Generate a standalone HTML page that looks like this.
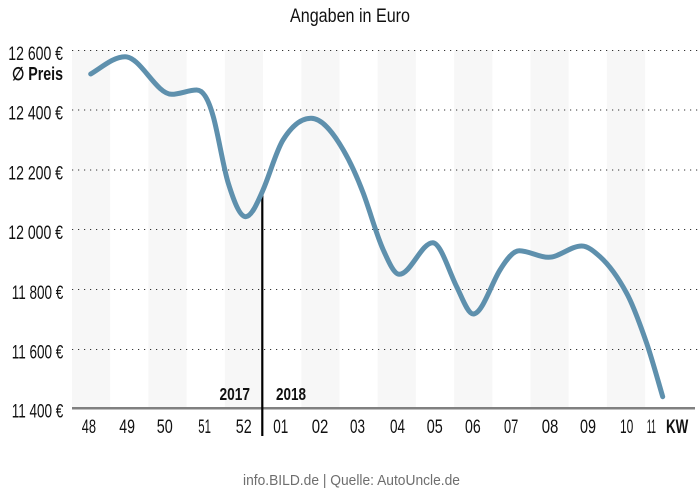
<!DOCTYPE html>
<html>
<head>
<meta charset="utf-8">
<style>
html,body{margin:0;padding:0;background:#fff;}
svg{display:block;}
text{font-family:"Liberation Sans Narrow","Liberation Sans",sans-serif;fill:#111;}
</style>
</head>
<body>
<svg width="700" height="494" viewBox="0 0 700 494" xmlns="http://www.w3.org/2000/svg">
  <!-- bands -->
  <g fill="#f7f7f7">
    <rect x="72" y="50" width="38.2" height="358"/>
    <rect x="148.4" y="50" width="38.2" height="358"/>
    <rect x="224.8" y="50" width="38.2" height="358"/>
    <rect x="301.3" y="50" width="38.2" height="358"/>
    <rect x="377.7" y="50" width="38.2" height="358"/>
    <rect x="454.1" y="50" width="38.2" height="358"/>
    <rect x="530.5" y="50" width="38.2" height="358"/>
    <rect x="606.9" y="50" width="38.2" height="358"/>
  </g>
  <!-- gridlines -->
  <g stroke="#333" stroke-width="1.1" stroke-dasharray="1.2 4.8">
    <line x1="72" y1="50.5" x2="700" y2="50.5"/>
    <line x1="72" y1="110" x2="700" y2="110"/>
    <line x1="72" y1="170" x2="700" y2="170"/>
    <line x1="72" y1="229.5" x2="700" y2="229.5"/>
    <line x1="72" y1="289.5" x2="700" y2="289.5"/>
    <line x1="72" y1="349.5" x2="700" y2="349.5"/>
  </g>
  <!-- axis -->
  <line x1="72" y1="408.3" x2="695" y2="408.3" stroke="#808080" stroke-width="2.5"/>
  <!-- divider -->
  <line x1="262.3" y1="190" x2="262.3" y2="436" stroke="#000" stroke-width="2.2"/>

  <!-- title -->
  <text x="290" y="22" font-size="19" textLength="120" lengthAdjust="spacingAndGlyphs">Angaben in Euro</text>

  <!-- y labels -->
  <g font-size="19">
    <text x="8.3" y="60" textLength="54.7" lengthAdjust="spacingAndGlyphs">12 600 €</text>
    <text x="8.3" y="119.5" textLength="54.7" lengthAdjust="spacingAndGlyphs">12 400 €</text>
    <text x="8.3" y="179.5" textLength="54.7" lengthAdjust="spacingAndGlyphs">12 200 €</text>
    <text x="8.3" y="239" textLength="54.7" lengthAdjust="spacingAndGlyphs">12 000 €</text>
    <text x="11.7" y="299" textLength="51.6" lengthAdjust="spacingAndGlyphs">11 800 €</text>
    <text x="11.7" y="358.5" textLength="51.6" lengthAdjust="spacingAndGlyphs">11 600 €</text>
    <text x="11.7" y="417.5" textLength="51.6" lengthAdjust="spacingAndGlyphs">11 400 €</text>
  </g>
  <text x="12" y="80" font-size="18" font-weight="bold" textLength="51" lengthAdjust="spacingAndGlyphs">∅ Preis</text>

  <!-- year labels -->
  <text x="219.5" y="400" font-size="17.5" font-weight="bold" textLength="30.5" lengthAdjust="spacingAndGlyphs">2017</text>
  <text x="276" y="400" font-size="17.5" font-weight="bold" textLength="30" lengthAdjust="spacingAndGlyphs">2018</text>

  <!-- x labels -->
  <g font-size="19">
    <text x="81.7" y="433" textLength="14.3" lengthAdjust="spacingAndGlyphs">48</text>
    <text x="119.3" y="433" textLength="15.7" lengthAdjust="spacingAndGlyphs">49</text>
    <text x="156.7" y="433" textLength="16" lengthAdjust="spacingAndGlyphs">50</text>
    <text x="198.3" y="433" textLength="12.7" lengthAdjust="spacingAndGlyphs">51</text>
    <text x="235.7" y="433" textLength="16" lengthAdjust="spacingAndGlyphs">52</text>
    <text x="273.3" y="433" textLength="15" lengthAdjust="spacingAndGlyphs">01</text>
    <text x="311.7" y="433" textLength="16.6" lengthAdjust="spacingAndGlyphs">02</text>
    <text x="350" y="433" textLength="15" lengthAdjust="spacingAndGlyphs">03</text>
    <text x="390" y="433" textLength="15" lengthAdjust="spacingAndGlyphs">04</text>
    <text x="426.7" y="433" textLength="16" lengthAdjust="spacingAndGlyphs">05</text>
    <text x="465" y="433" textLength="15.7" lengthAdjust="spacingAndGlyphs">06</text>
    <text x="504" y="433" textLength="14.3" lengthAdjust="spacingAndGlyphs">07</text>
    <text x="541.7" y="433" textLength="16.6" lengthAdjust="spacingAndGlyphs">08</text>
    <text x="580" y="433" textLength="16" lengthAdjust="spacingAndGlyphs">09</text>
    <text x="620" y="433" textLength="13.3" lengthAdjust="spacingAndGlyphs">10</text>
    <text x="646.7" y="433" textLength="9.3" lengthAdjust="spacingAndGlyphs">11</text>
    <text x="666" y="433" font-weight="bold" textLength="22.3" lengthAdjust="spacingAndGlyphs">KW</text>
  </g>

  <!-- series -->
  <path fill="none" stroke="#5e90ad" stroke-width="5" stroke-linecap="round" stroke-linejoin="round"
    d="M90.7,74
       C102.1,67.1 113.6,56.7 125,56.7
       C140.6,56.7 156.1,94.3 171.7,94.3
       C180,94.3 188.4,90 196.7,90
       C202.2,90 207.8,96.8 213.3,116.7
       C218.3,134.7 223.3,167.3 228.3,183.3
       C234.1,201.9 239.9,216.7 245.7,216.7
       C251.5,216.7 257.2,203.3 263,190
       C269.7,174.7 276.3,150.7 283,140
       C292.3,125.1 301.7,118.3 311,118.3
       C321.8,118.3 332.5,131.5 343.3,150
       C350,161.5 356.6,175.5 363.3,193.3
       C370,211.1 376.6,235.3 383.3,250
       C388.6,261.7 394,274.3 399.3,274.3
       C410.4,274.3 421.6,242.7 432.7,242.7
       C440.7,242.7 448.7,270.7 456.7,286.7
       C462.2,297.8 467.8,314 473.3,314
       C482.2,314 491.1,284.2 500,270
       C506.4,259.7 512.9,250.7 519.3,250.7
       C529,250.7 538.6,257.3 548.3,257.3
       C559.4,257.3 570.6,246 581.7,246
       C587.8,246 593.9,251.2 600,256.7
       C608.9,264.7 617.8,276.8 626.7,293.3
       C633.4,305.6 640,324 646.7,343.3
       C652,358.8 657.4,378.6 662.7,396.7"/>

  <!-- footer -->
  <text x="243" y="485" font-size="14.5" fill="#6e6e6e" style="fill:#6e6e6e" textLength="217" lengthAdjust="spacingAndGlyphs">info.BILD.de | Quelle: AutoUncle.de</text>
</svg>
</body>
</html>
